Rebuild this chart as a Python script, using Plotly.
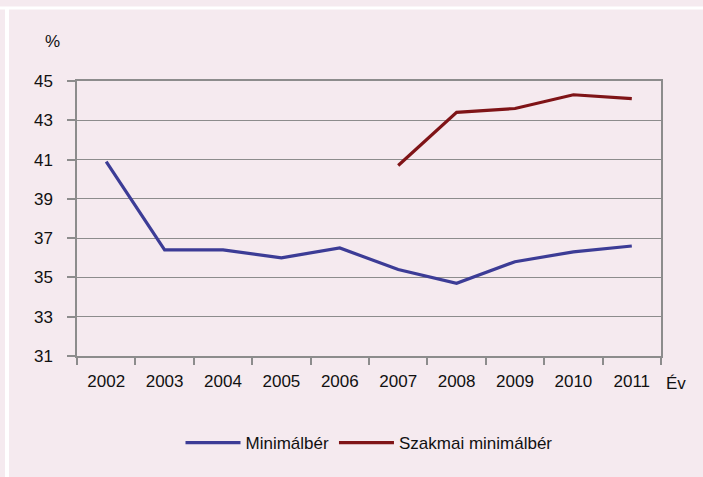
import plotly.graph_objects as go

years = ["2002", "2003", "2004", "2005", "2006", "2007", "2008", "2009", "2010", "2011"]
minimalber = [40.9, 36.4, 36.4, 36.0, 36.5, 35.4, 34.7, 35.8, 36.3, 36.6]
szakmai = [None, None, None, None, None, 40.7, 43.4, 43.6, 44.3, 44.1]

BG = "#F5EAEF"
GRID = "#8C8C8C"
FONT = "Liberation Sans, Arial, sans-serif"

fig = go.Figure()
fig.add_trace(go.Scatter(x=years, y=minimalber, mode="lines", name="Minimálbér",
                         line=dict(color="#3C3C96", width=3.2)))
fig.add_trace(go.Scatter(x=years, y=szakmai, mode="lines", name="Szakmai minimálbér",
                         line=dict(color="#7F1417", width=3.2)))

W, H = 703, 477
L, R, T, B = 77, 661, 81, 356
fig.update_layout(
    width=W, height=H,
    margin=dict(l=L, r=W - R, t=T, b=H - B, pad=0),
    paper_bgcolor=BG, plot_bgcolor=BG,
    font=dict(family=FONT, size=17, color="#111111"),
    showlegend=True,
    legend=dict(orientation="h", x=0.5, xanchor="center",
                y=(B - 443) / (B - T), yanchor="middle", font=dict(size=17),
                bgcolor="rgba(0,0,0,0)", itemwidth=55),
    xaxis=dict(type="category", tickson="boundaries", ticks="outside", ticklen=7,
               tickcolor=GRID, tickwidth=1.5, showgrid=False, showline=True,
               linecolor=GRID, linewidth=1.5, mirror=True, ticklabelstandoff=9,
               range=[-0.5, 9.5]),
    yaxis=dict(range=[31, 45], dtick=2, tick0=31, ticks="outside", ticklen=8,
               tickcolor=GRID, tickwidth=1.5, showgrid=True, gridcolor=GRID,
               gridwidth=1.2, showline=True, linecolor=GRID, linewidth=1.5,
               mirror=True, zeroline=False, ticklabelstandoff=11),
)

def px_x(p):
    return (p - L) / (R - L)

def px_y(p):
    return (B - p) / (B - T)

fig.add_annotation(x=px_x(52), y=px_y(42), xref="paper", yref="paper", text="%",
                   showarrow=False, font=dict(size=17), xanchor="center", yanchor="middle")
fig.add_annotation(x=px_x(676), y=px_y(383), xref="paper", yref="paper", text="Év",
                   showarrow=False, font=dict(size=17), xanchor="center", yanchor="middle")

# white frame lines (top and left)
fig.add_shape(type="line", xref="paper", yref="paper", x0=px_x(0), x1=px_x(W),
              y0=px_y(8), y1=px_y(8), line=dict(color="white", width=3))
fig.add_shape(type="line", xref="paper", yref="paper", x0=px_x(7), x1=px_x(7),
              y0=px_y(8), y1=px_y(H), line=dict(color="white", width=4))

fig.write_html("out.html", config={"displayModeBar": False},
               post_script="document.body.style.margin='0';document.body.style.padding='0';document.body.style.overflow='hidden';")
